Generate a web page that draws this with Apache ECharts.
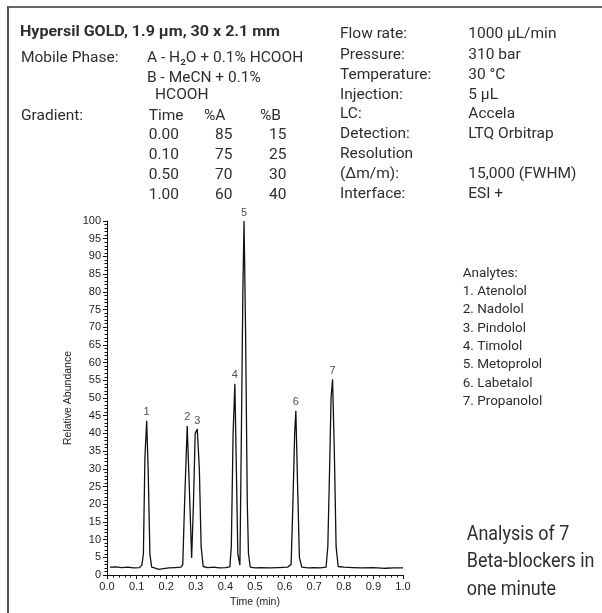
<!DOCTYPE html>
<html>
<head>
<meta charset="utf-8">
<script src="https://cdn.jsdelivr.net/npm/echarts@6/dist/echarts.min.js"></script>
<style>
  html, body { margin: 0; padding: 0; background: #fff; }
  #chart { width: 602px; height: 613px; }
</style>
</head>
<body>
<div id="chart"></div>
<script>
// Chromatogram trace: [time (min), relative abundance]
const traceTime = [
  0.010, 0.030, 0.050, 0.070, 0.090, 0.110, 0.118, 0.123, 0.128, 0.134, 0.139, 0.145, 0.151,
  0.160, 0.175, 0.190, 0.210, 0.230, 0.250, 0.256, 0.262, 0.271, 0.278, 0.286, 0.292, 0.298,
  0.305, 0.312, 0.318, 0.325, 0.340, 0.360, 0.380, 0.400, 0.415, 0.420, 0.426, 0.432, 0.437,
  0.442, 0.449, 0.454, 0.459, 0.463, 0.468, 0.474, 0.478, 0.484, 0.500, 0.520, 0.550, 0.580,
  0.610, 0.622, 0.628, 0.634, 0.638, 0.644, 0.650, 0.658, 0.680, 0.700, 0.720, 0.740, 0.746,
  0.752, 0.757, 0.762, 0.768, 0.774, 0.781, 0.800, 0.830, 0.860, 0.900, 0.940, 0.970, 1.000
];
const traceAbundance = [
  2.2, 2.3, 2.1, 2.2, 2.0, 2.1, 2.8, 6.0, 33.0, 43.6, 30.0, 5.8, 2.2,
  2.0, 1.6, 1.8, 2.0, 2.1, 2.2, 3.0, 20.0, 42.1, 25.0, 4.8, 20.0, 40.0,
  41.2, 30.0, 8.0, 2.4, 2.1, 2.2, 2.0, 2.1, 2.3, 8.0, 40.0, 54.0, 30.0,
  6.0, 2.8, 40.0, 80.0, 100.0, 70.0, 20.0, 6.0, 2.2, 2.0, 2.1, 2.0, 2.1,
  2.2, 3.0, 20.0, 40.0, 46.4, 25.0, 5.0, 2.2, 2.0, 2.1, 2.0, 2.2, 8.0,
  30.0, 50.0, 55.3, 35.0, 8.0, 2.4, 2.2, 2.1, 2.0, 2.1, 1.9, 2.0, 2.0
];

// Peak apexes with their analyte numbers
const peakNumbers = [1, 2, 3, 4, 5, 6, 7];
const peakTimes = [0.134, 0.271, 0.305, 0.432, 0.463, 0.638, 0.762];
const peakHeights = [43.6, 42.1, 41.2, 54.0, 100.0, 46.4, 55.3];

// Axis ticks
const xTicks = [0.0, 0.1, 0.2, 0.3, 0.4, 0.5, 0.6, 0.7, 0.8, 0.9, 1.0];
const yTicks = [0, 5, 10, 15, 20, 25, 30, 35, 40, 45, 50, 55, 60, 65, 70, 75, 80, 85, 90, 95, 100];

// Method details
const columnTitle = 'Hypersil GOLD, 1.9 µm, 30 x 2.1 mm';
const gradientHeader = ['Time', '%A', '%B'];
const gradientTime = ['0.00', '0.10', '0.50', '1.00'];
const gradientA = ['85', '75', '70', '60'];
const gradientB = ['15', '25', '30', '40'];
const conditionLabels = ['Flow rate:', 'Pressure:', 'Temperature:', 'Injection:', 'LC:', 'Detection:', 'Resolution', '(\u0394m/m):', 'Interface:'];
const conditionValues = ['1000 µL/min', '310 bar', '30 °C', '5 µL', 'Accela', 'LTQ Orbitrap', '', '15,000 (FWHM)', 'ESI +'];
const analytes = ['Analytes:', '1. Atenolol', '2. Nadolol', '3. Pindolol', '4. Timolol', '5. Metoprolol', '6. Labetalol', '7. Propanolol'];
const captionLines = ['Analysis of 7', 'Beta-blockers in', 'one minute'];

const FACE = "Roboto, 'Liberation Sans', sans-serif";
const AXISFONT = "'Liberation Sans', Arial, sans-serif";
const TXT = '#2e2e2e';

// squeeze factor so a string fits a given width
const measureCtx = document.createElement('canvas').getContext('2d');
function fitScale(text, font, width) {
  measureCtx.font = font;
  const w = measureCtx.measureText(text).width;
  return w > 0 ? width / w : 1;
}

// text placed by its baseline (cap-height centred), optional horizontal squeeze
function txt(x, baseline, text, size, weight, squeeze) {
  return {
    type: 'text', silent: true,
    x: x, y: baseline - size * 0.36, scaleX: squeeze || 1, scaleY: 1,
    style: {
      x: 0, y: 0, text: text,
      font: (weight || 'normal') + ' ' + size + 'px ' + FACE,
      fill: TXT, textVerticalAlign: 'middle', textAlign: 'left'
    }
  };
}

const graphics = [];
// frame
graphics.push({ type: 'line', silent: true, shape: { x1: 8, y1: 7, x2: 602, y2: 7 }, style: { stroke: '#666', lineWidth: 2 } });
graphics.push({ type: 'line', silent: true, shape: { x1: 8, y1: 6, x2: 8, y2: 613 }, style: { stroke: '#555', lineWidth: 2 } });

const titleFont = 'bold 15.5px ' + FACE;
graphics.push(txt(20, 38, columnTitle, 15.5, 'bold', fitScale(columnTitle, titleFont, 260)));
graphics.push(txt(21, 63.3, 'Mobile Phase:', 15.5));
graphics.push(txt(147, 63.3, 'A - H\u2082O + 0.1% HCOOH', 15.5));
graphics.push(txt(147, 83.3, 'B - MeCN + 0.1%', 15.5));
graphics.push(txt(155, 101, 'HCOOH', 15.5));
graphics.push(txt(21, 121.7, 'Gradient:', 15.5));
[148.7, 204, 260].forEach((x, i) => graphics.push(txt(x, 121.7, gradientHeader[i], 15.5)));
gradientTime.forEach((t, i) => {
  const b = 140.5 + i * 20;
  graphics.push(txt(148.7, b, t, 15.5));
  graphics.push(txt(215, b, gradientA[i], 15.5));
  graphics.push(txt(269, b, gradientB[i], 15.5));
});
const condBase = [39.5, 60.8, 81, 100.3, 120.2, 140.2, 159.5, 180, 200];
conditionLabels.forEach((l, i) => {
  graphics.push(txt(340, condBase[i], l, 15.5));
  if (conditionValues[i]) graphics.push(txt(468.3, condBase[i], conditionValues[i], 15.5));
});
analytes.forEach((a, i) => graphics.push(txt(462.7, 278 + i * 18.35, a, 13.5)));
captionLines.forEach((c, i) => graphics.push(txt(466.7, 541.7 + i * 27.5, c, 19.5, 'normal', 0.92)));

const chart = echarts.init(document.getElementById('chart'), null, { renderer: 'canvas' });
chart.setOption({
  animation: false,
  backgroundColor: '#fff',
  grid: { left: 107, right: 199, top: 221, bottom: 38, containLabel: false },
  xAxis: {
    type: 'value', min: xTicks[0], max: xTicks[xTicks.length - 1], interval: 0.1,
    name: 'Time (min)', nameLocation: 'middle', nameGap: 22,
    nameTextStyle: { fontFamily: AXISFONT, fontSize: 10.5, color: '#222' },
    axisLine: { show: true, onZero: false, lineStyle: { color: '#111', width: 1 } },
    axisTick: { show: true, length: 4, lineStyle: { color: '#111' } },
    minorTick: { show: true, splitNumber: 5, length: 2.5, lineStyle: { color: '#111' } },
    axisLabel: { fontFamily: AXISFONT, fontSize: 11, color: '#222', margin: 6,
      formatter: v => v.toFixed(1) },
    splitLine: { show: false }
  },
  yAxis: {
    type: 'value', min: yTicks[0], max: yTicks[yTicks.length - 1], interval: 5,
    name: 'Relative Abundance', nameLocation: 'middle', nameGap: 33, nameRotate: 90,
    nameTextStyle: { fontFamily: AXISFONT, fontSize: 10.5, color: '#222' },
    axisLine: { show: true, lineStyle: { color: '#111', width: 1 } },
    axisTick: { show: true, length: 4, lineStyle: { color: '#111' } },
    minorTick: { show: true, splitNumber: 5, length: 2.5, lineStyle: { color: '#111' } },
    axisLabel: { fontFamily: AXISFONT, fontSize: 11, color: '#222', margin: 6 },
    splitLine: { show: false }
  },
  series: [
    {
      type: 'line', name: 'trace',
      data: traceTime.map((t, i) => [t, traceAbundance[i]]),
      showSymbol: false, symbol: 'none', smooth: false,
      lineStyle: { color: '#111', width: 1.3 },
      clip: true
    },
    {
      type: 'scatter', name: 'peaks',
      data: peakTimes.map((t, i) => [t, peakHeights[i], peakNumbers[i]]),
      symbolSize: 0,
      label: {
        show: true, position: 'top', distance: 3,
        formatter: p => String(p.value[2]),
        fontFamily: AXISFONT, fontSize: 11, color: '#222'
      }
    }
  ],
  graphic: graphics
});
</script>
</body>
</html>
